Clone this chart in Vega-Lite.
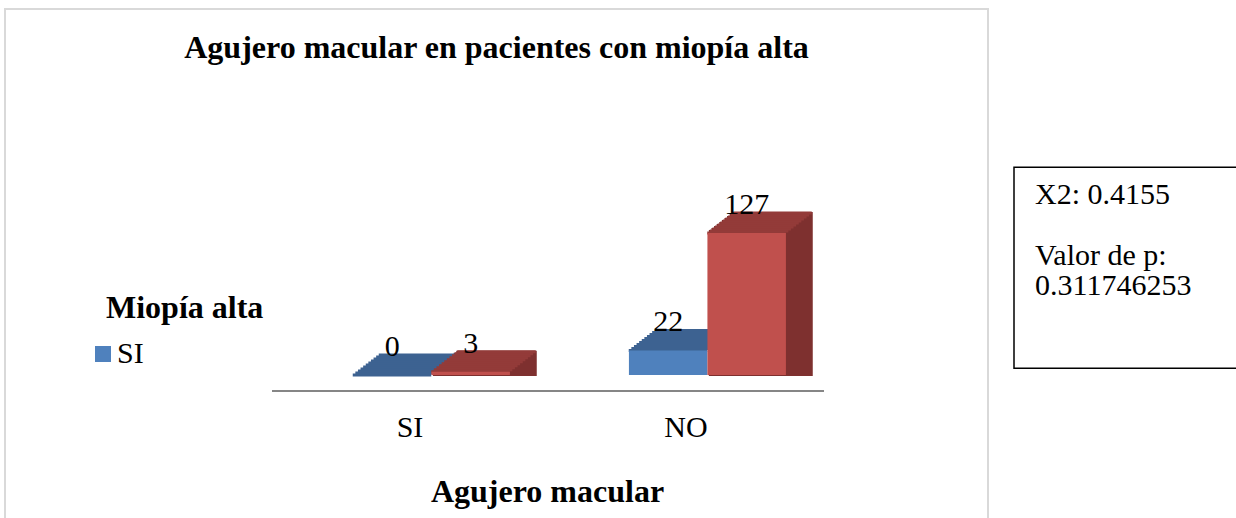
{
  "$schema": "https://vega.github.io/schema/vega-lite/v6.json",
  "padding": {"left": 4, "top": 8, "right": 0, "bottom": 0},
  "background": "white",
  "center": true,
  "spacing": 24,
  "hconcat": [
    {
      "width": 983,
      "height": 517,
      "view": {"stroke": "#D9D9D9", "strokeWidth": 2},
      "title": {
        "text": "Agujero macular en pacientes con miopía alta",
        "font": "Liberation Serif",
        "fontSize": 32,
        "fontWeight": "bold",
        "color": "black",
        "anchor": "middle",
        "frame": "group",
        "baseline": "alphabetic",
        "offset": 0,
        "dy": 81
      },
      "layer": [
        {
          "data": {
            "values": [
              {"agujero": "SI", "miopia": "SI", "n": 0},
              {"agujero": "SI", "miopia": "NO", "n": 3},
              {"agujero": "NO", "miopia": "SI", "n": 22},
              {"agujero": "NO", "miopia": "NO", "n": 127}
            ]
          },
          "encoding": {
            "x": {
              "field": "agujero",
              "type": "nominal",
              "sort": ["SI", "NO"],
              "scale": {"domain": ["SI", "NO"], "paddingInner": 0, "paddingOuter": 0.7808, "align": 0.6195},
              "axis": {
                "orient": "bottom",
                "offset": -135,
                "domain": false,
                "ticks": false,
                "grid": false,
                "labelAngle": 0,
                "labelFont": "Liberation Serif",
                "labelFontSize": 30,
                "labelColor": "black",
                "labelBaseline": "alphabetic",
                "labelPadding": 45,
                "title": "Agujero macular",
                "titleFont": "Liberation Serif",
                "titleFontSize": 32,
                "titleFontWeight": "bold",
                "titleColor": "black",
                "titleX": 542,
                "titleY": 110,
                "titleAlign": "center",
                "titleBaseline": "alphabetic"
              }
            },
            "y": {
              "field": "n",
              "type": "quantitative",
              "stack": null,
              "scale": {"domain": [-135, 327.3], "zero": false, "nice": false},
              "axis": null
            }
          },
          "layer": [
            {
              "transform": [{"filter": "datum.miopia === 'NO'"}],
              "layer": [
                {"mark": {"type": "bar", "width": 78.5, "color": "#7E302F", "stroke": "#7E302F", "strokeWidth": 2, "xOffset": 63.1, "yOffset": -2, "y2Offset": -2}},
                {"mark": {"type": "bar", "width": 78.5, "color": "#7E302F", "stroke": "#7E302F", "strokeWidth": 2, "xOffset": 65.7, "yOffset": -4, "y2Offset": -4}},
                {"mark": {"type": "bar", "width": 78.5, "color": "#7E302F", "stroke": "#7E302F", "strokeWidth": 2, "xOffset": 68.3, "yOffset": -6, "y2Offset": -6}},
                {"mark": {"type": "bar", "width": 78.5, "color": "#7E302F", "stroke": "#7E302F", "strokeWidth": 2, "xOffset": 70.9, "yOffset": -8, "y2Offset": -8}},
                {"mark": {"type": "bar", "width": 78.5, "color": "#7E302F", "stroke": "#7E302F", "strokeWidth": 2, "xOffset": 73.5, "yOffset": -10, "y2Offset": -10}},
                {"mark": {"type": "bar", "width": 78.5, "color": "#7E302F", "stroke": "#7E302F", "strokeWidth": 2, "xOffset": 76.1, "yOffset": -12, "y2Offset": -12}},
                {"mark": {"type": "bar", "width": 78.5, "color": "#7E302F", "stroke": "#7E302F", "strokeWidth": 2, "xOffset": 78.7, "yOffset": -14, "y2Offset": -14}},
                {"mark": {"type": "bar", "width": 78.5, "color": "#7E302F", "stroke": "#7E302F", "strokeWidth": 2, "xOffset": 81.3, "yOffset": -16, "y2Offset": -16}},
                {"mark": {"type": "bar", "width": 78.5, "color": "#7E302F", "stroke": "#7E302F", "strokeWidth": 2, "xOffset": 83.9, "yOffset": -18, "y2Offset": -18}},
                {"mark": {"type": "bar", "width": 78.5, "color": "#7E302F", "stroke": "#7E302F", "strokeWidth": 2, "xOffset": 86.5, "yOffset": -20, "y2Offset": -20}}
              ]
            },
            {
              "transform": [{"filter": "datum.miopia === 'SI'"}],
              "encoding": {"y2": {"field": "n"}},
              "layer": [
                {"mark": {"type": "bar", "width": 78.5, "color": "#3D6291", "stroke": "#3D6291", "strokeWidth": 3, "xOffset": -18, "yOffset": 0, "y2Offset": 0}},
                {"mark": {"type": "bar", "width": 78.5, "color": "#3D6291", "stroke": "#3D6291", "strokeWidth": 3, "xOffset": -15.4, "yOffset": -2, "y2Offset": -2}},
                {"mark": {"type": "bar", "width": 78.5, "color": "#3D6291", "stroke": "#3D6291", "strokeWidth": 3, "xOffset": -12.8, "yOffset": -4, "y2Offset": -4}},
                {"mark": {"type": "bar", "width": 78.5, "color": "#3D6291", "stroke": "#3D6291", "strokeWidth": 3, "xOffset": -10.2, "yOffset": -6, "y2Offset": -6}},
                {"mark": {"type": "bar", "width": 78.5, "color": "#3D6291", "stroke": "#3D6291", "strokeWidth": 3, "xOffset": -7.6, "yOffset": -8, "y2Offset": -8}},
                {"mark": {"type": "bar", "width": 78.5, "color": "#3D6291", "stroke": "#3D6291", "strokeWidth": 3, "xOffset": -5, "yOffset": -10, "y2Offset": -10}},
                {"mark": {"type": "bar", "width": 78.5, "color": "#3D6291", "stroke": "#3D6291", "strokeWidth": 3, "xOffset": -2.4, "yOffset": -12, "y2Offset": -12}},
                {"mark": {"type": "bar", "width": 78.5, "color": "#3D6291", "stroke": "#3D6291", "strokeWidth": 3, "xOffset": 0.2, "yOffset": -14, "y2Offset": -14}},
                {"mark": {"type": "bar", "width": 78.5, "color": "#3D6291", "stroke": "#3D6291", "strokeWidth": 3, "xOffset": 2.8, "yOffset": -16, "y2Offset": -16}},
                {"mark": {"type": "bar", "width": 78.5, "color": "#3D6291", "stroke": "#3D6291", "strokeWidth": 3, "xOffset": 5.4, "yOffset": -18, "y2Offset": -18}},
                {"mark": {"type": "bar", "width": 78.5, "color": "#3D6291", "stroke": "#3D6291", "strokeWidth": 3, "xOffset": 8, "yOffset": -20, "y2Offset": -20}}
              ]
            },
            {
              "transform": [{"filter": "datum.miopia === 'NO'"}],
              "encoding": {"y2": {"field": "n"}},
              "layer": [
                {"mark": {"type": "bar", "width": 78.5, "color": "#933B39", "stroke": "#933B39", "strokeWidth": 3, "xOffset": 60.5, "yOffset": 0, "y2Offset": 0}},
                {"mark": {"type": "bar", "width": 78.5, "color": "#933B39", "stroke": "#933B39", "strokeWidth": 3, "xOffset": 63.1, "yOffset": -2, "y2Offset": -2}},
                {"mark": {"type": "bar", "width": 78.5, "color": "#933B39", "stroke": "#933B39", "strokeWidth": 3, "xOffset": 65.7, "yOffset": -4, "y2Offset": -4}},
                {"mark": {"type": "bar", "width": 78.5, "color": "#933B39", "stroke": "#933B39", "strokeWidth": 3, "xOffset": 68.3, "yOffset": -6, "y2Offset": -6}},
                {"mark": {"type": "bar", "width": 78.5, "color": "#933B39", "stroke": "#933B39", "strokeWidth": 3, "xOffset": 70.9, "yOffset": -8, "y2Offset": -8}},
                {"mark": {"type": "bar", "width": 78.5, "color": "#933B39", "stroke": "#933B39", "strokeWidth": 3, "xOffset": 73.5, "yOffset": -10, "y2Offset": -10}},
                {"mark": {"type": "bar", "width": 78.5, "color": "#933B39", "stroke": "#933B39", "strokeWidth": 3, "xOffset": 76.1, "yOffset": -12, "y2Offset": -12}},
                {"mark": {"type": "bar", "width": 78.5, "color": "#933B39", "stroke": "#933B39", "strokeWidth": 3, "xOffset": 78.7, "yOffset": -14, "y2Offset": -14}},
                {"mark": {"type": "bar", "width": 78.5, "color": "#933B39", "stroke": "#933B39", "strokeWidth": 3, "xOffset": 81.3, "yOffset": -16, "y2Offset": -16}},
                {"mark": {"type": "bar", "width": 78.5, "color": "#933B39", "stroke": "#933B39", "strokeWidth": 3, "xOffset": 83.9, "yOffset": -18, "y2Offset": -18}},
                {"mark": {"type": "bar", "width": 78.5, "color": "#933B39", "stroke": "#933B39", "strokeWidth": 3, "xOffset": 86.5, "yOffset": -20, "y2Offset": -20}}
              ]
            },
            {
              "encoding": {
                "xOffset": {
                  "field": "miopia",
                  "type": "nominal",
                  "sort": ["SI", "NO"],
                  "scale": {"domain": ["SI", "NO"], "paddingInner": 0, "paddingOuter": 0.758, "align": 0.68}
                }
              },
              "layer": [
                {
                  "mark": {"type": "bar"},
                  "encoding": {
                    "color": {
                      "field": "miopia",
                      "type": "nominal",
                      "scale": {"domain": ["SI", "NO"], "range": ["#4F81BD", "#C0504D"]},
                      "legend": {
                        "orient": "none",
                        "legendX": 101,
                        "legendY": 284,
                        "values": ["SI"],
                        "title": "Miopía alta",
                        "titleFont": "Liberation Serif",
                        "titleFontSize": 32,
                        "titleFontWeight": "bold",
                        "titleColor": "black",
                        "titlePadding": 14,
                        "titleLimit": 400,
                        "labelFont": "Liberation Serif",
                        "labelFontSize": 30,
                        "labelColor": "black",
                        "labelOffset": -1,
                        "symbolType": "square",
                        "symbolSize": 256,
                        "symbolStrokeWidth": 0,
                        "symbolOffset": -18
                      }
                    }
                  }
                },
                {
                  "mark": {"type": "text", "font": "Liberation Serif", "fontSize": 30, "color": "black", "baseline": "alphabetic", "dy": -19},
                  "encoding": {"text": {"field": "n", "type": "quantitative"}}
                }
              ]
            }
          ]
        },
        {
          "data": {"values": [{"eje": "Agujero macular"}]},
          "mark": {"type": "rule", "color": "#868686", "strokeWidth": 2},
          "encoding": {
            "x": {"datum": "SI", "bandPosition": 0},
            "x2": {"datum": "NO", "bandPosition": 1},
            "y": {"datum": -14.3}
          }
        }
      ]
    },
    {
      "width": 240,
      "height": 201,
      "view": {"stroke": "black", "strokeWidth": 1.5},
      "data": {
        "values": [
          {"linea": 1, "texto": "X2: 0.4155"},
          {"linea": 3, "texto": "Valor de p:"},
          {"linea": 4, "texto": "0.311746253"}
        ]
      },
      "mark": {"type": "text", "align": "left", "baseline": "alphabetic", "font": "Liberation Serif", "fontSize": 30, "color": "black"},
      "encoding": {
        "x": {"value": 21},
        "y": {"field": "linea", "type": "quantitative", "scale": {"domain": [-0.225, 6.431], "reverse": true, "zero": false, "nice": false}, "axis": null},
        "text": {"field": "texto"}
      }
    }
  ]
}
